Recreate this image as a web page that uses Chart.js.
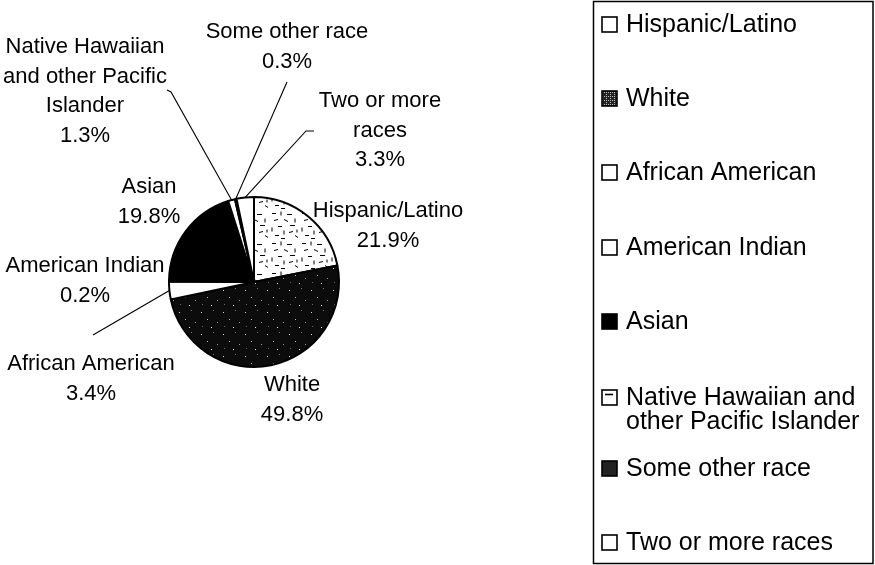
<!DOCTYPE html>
<html>
<head>
<meta charset="utf-8">
<script src="https://cdn.jsdelivr.net/npm/chart.js@4/dist/chart.umd.min.js"></script>
<style>
  html, body { margin: 0; padding: 0; background: #fff; }
  #wrap { position: relative; width: 875px; height: 565px; }
</style>
</head>
<body>
<div id="wrap"><canvas id="raceChart" width="875" height="565"></canvas></div>
<script>
// Population share by race/ethnicity (percent)
const categories = [
  'Hispanic/Latino', 'White', 'African American', 'American Indian',
  'Asian', 'Native Hawaiian and other Pacific Islander', 'Some other race', 'Two or more races'
];
const shares = [21.9, 49.8, 3.4, 0.2, 19.8, 1.3, 0.3, 3.3];

// Text as it is wrapped next to the pie and in the legend
const sliceLabelLines = [
  ['Hispanic/Latino'], ['White'], ['African American'], ['American Indian'],
  ['Asian'], ['Native Hawaiian', 'and other Pacific', 'Islander'], ['Some other race'], ['Two or more', 'races']
];
const legendLabelLines = [
  ['Hispanic/Latino'], ['White'], ['African American'], ['American Indian'],
  ['Asian'], ['Native Hawaiian and', 'other Pacific Islander'], ['Some other race'], ['Two or more races']
];

// Label placement (centre of first text line) and optional leader line elbows
const labelLayout = [
  { x: 388, y: 211 },
  { x: 292, y: 385 },
  { x: 91,  y: 364, leader: [[93, 335]] },
  { x: 85,  y: 266 },
  { x: 149, y: 187 },
  { x: 85,  y: 47,  leader: [[167, 90], [171, 92]] },
  { x: 287, y: 32,  leader: [[287, 82]] },
  { x: 380, y: 101, leader: [[314, 131], [306, 131]] }
];
const legendRowY = [23, 97, 171, 246, 320, 396, 467, 541];

function makeTile(size, bg, draw) {
  const c = document.createElement('canvas');
  c.width = size; c.height = size;
  const g = c.getContext('2d');
  g.fillStyle = bg;
  g.fillRect(0, 0, size, size);
  draw(g);
  return c;
}

// light fill with scattered short dashes
const dashTile = makeTile(30, '#fff', g => {
  g.strokeStyle = '#000';
  g.lineWidth = 1;
  const marks = [
    [2, 3, 6, 3], [11, 1, 11, 5], [17, 4, 22, 4], [25, 8, 25, 12], [4, 10, 8, 9],
    [14, 9, 18, 11], [20, 15, 25, 15], [2, 17, 2, 21], [8, 16, 12, 16], [14, 20, 14, 24],
    [19, 22, 23, 21], [5, 25, 9, 25], [25, 25, 28, 27], [11, 28, 15, 28], [27, 19, 27, 22]
  ];
  marks.forEach(m => { g.beginPath(); g.moveTo(m[0], m[1] + 0.5); g.lineTo(m[2], m[3] + 0.5); g.stroke(); });
});

// near-black fill with sparse light speckles
const speckTile = makeTile(22, '#0c0c0c', g => {
  const dots = [[3, 4, '#ddd'], [15, 2, '#777'], [9, 11, '#bbb'], [19, 14, '#999'], [4, 18, '#666'], [13, 19, '#eee']];
  dots.forEach(d => { g.fillStyle = d[2]; g.fillRect(d[0], d[1], 1, 1); });
});

// medium checker used for the legend swatch of the speckled slice
const checkTile = makeTile(4, '#222', g => {
  g.fillStyle = '#bbb';
  g.fillRect(0, 0, 1, 1); g.fillRect(2, 2, 1, 1); g.fillRect(2, 0, 1, 1);
});

const ctx = document.getElementById('raceChart').getContext('2d');
const dashFill = ctx.createPattern(dashTile, 'repeat');
const speckFill = ctx.createPattern(speckTile, 'repeat');
const checkFill = ctx.createPattern(checkTile, 'repeat');

const sliceFills = [dashFill, speckFill, '#fff', '#fff', '#000', '#fff', speckFill, '#fff'];
const swatchFills = ['#fff', checkFill, '#fff', '#fff', '#000', '#fff', '#222', '#fff'];

const FONT = '"Liberation Sans", Arial, sans-serif';

const pieLabels = {
  id: 'pieLabels',
  afterDatasetsDraw(chart) {
    const c = chart.ctx;
    const arcs = chart.getDatasetMeta(0).data;
    c.save();
    c.strokeStyle = '#000';
    c.lineWidth = 1.1;
    arcs.forEach((arc, i) => {
      const lay = labelLayout[i];
      const p = arc.getProps(['x', 'y', 'startAngle', 'endAngle', 'outerRadius'], true);
      const mid = (p.startAngle + p.endAngle) / 2;
      if (lay.leader) {
        c.beginPath();
        c.moveTo(lay.leader[0][0], lay.leader[0][1]);
        lay.leader.slice(1).forEach(pt => c.lineTo(pt[0], pt[1]));
        c.lineTo(p.x + Math.cos(mid) * p.outerRadius, p.y + Math.sin(mid) * p.outerRadius);
        c.stroke();
      }
      const lines = sliceLabelLines[i].concat([shares[i].toFixed(1) + '%']);
      c.fillStyle = '#000';
      c.font = '22px ' + FONT;
      c.textAlign = 'center';
      c.textBaseline = 'middle';
      lines.forEach((t, k) => c.fillText(t, lay.x, lay.y + k * 29.5));
    });
    c.restore();
  }
};

const boxLegend = {
  id: 'boxLegend',
  afterDraw(chart) {
    const c = chart.ctx;
    c.save();
    c.strokeStyle = '#000';
    c.lineWidth = 1.5;
    c.strokeRect(593.5, 1.5, 279.5, 562);
    c.font = '25px ' + FONT;
    c.textAlign = 'left';
    c.textBaseline = 'alphabetic';
    categories.forEach((name, i) => {
      const base = legendRowY[i] + 9;
      c.fillStyle = swatchFills[i];
      c.fillRect(602, base - 15, 15, 15);
      c.lineWidth = 1.6;
      c.strokeStyle = '#000';
      c.strokeRect(602, base - 15, 15, 15);
      if (i === 5) {
        c.beginPath();
        c.moveTo(605, base - 10.5);
        c.lineTo(613, base - 10.5);
        c.stroke();
      }
      c.fillStyle = '#000';
      legendLabelLines[i].forEach((t, k) => c.fillText(t, 626, base + k * 24));
    });
    c.restore();
  }
};

new Chart(ctx, {
  type: 'pie',
  data: {
    labels: categories,
    datasets: [{
      data: shares,
      backgroundColor: sliceFills,
      borderColor: '#000',
      borderWidth: 2
    }]
  },
  options: {
    responsive: false,
    animation: false,
    events: [],
    layout: { padding: { left: 168, right: 535, top: 196, bottom: 197 } },
    plugins: {
      legend: { display: false },
      tooltip: { enabled: false }
    }
  },
  plugins: [pieLabels, boxLegend]
});
</script>
</body>
</html>
